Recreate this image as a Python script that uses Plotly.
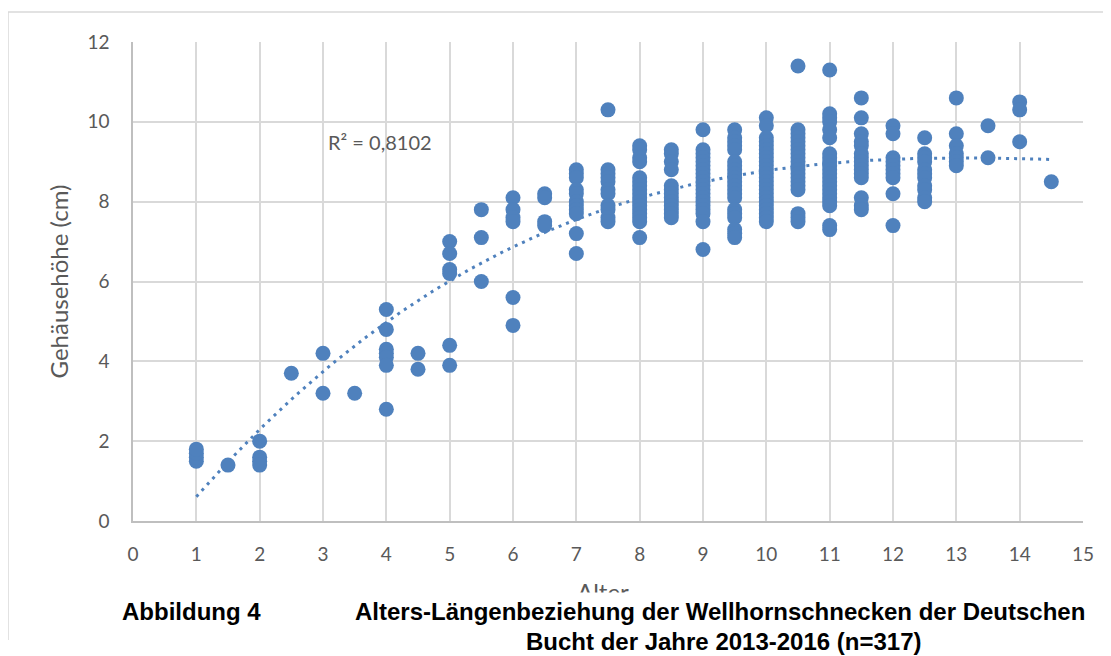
import numpy as np
import plotly.graph_objects as go

# Age classes (years) and shell heights (cm)
alter_klassen = [1, 1.5, 2, 2.5, 3, 3.5, 4, 4.5, 5, 5.5, 6, 6.5, 7, 7.5, 8, 8.5,
                 9, 9.5, 10, 10.5, 11, 11.5, 12, 12.5, 13, 13.5, 14, 14.5]
hoehen = [
    [1.5, 1.6, 1.7, 1.8],
    [1.4],
    [2.0, 1.6, 1.5, 1.4],
    [3.7],
    [4.2, 3.2],
    [3.2],
    [5.3, 4.8, 4.3, 4.2, 4.1, 3.9, 2.8],
    [4.2, 3.8],
    [7.0, 6.7, 6.3, 6.2, 4.4, 3.9],
    [7.8, 7.1, 6.0],
    [8.1, 7.8, 7.6, 7.5, 5.6, 4.9],
    [8.2, 8.1, 7.5, 7.4],
    [8.8, 8.7, 8.6, 8.3, 8.2, 8.0, 7.9, 7.8, 7.7, 7.2, 6.7],
    [10.3, 8.8, 8.7, 8.6, 8.5, 8.3, 8.2, 7.9, 7.8, 7.6, 7.5],
    [9.4, 9.3, 9.1, 9.0, 8.6, 8.5, 8.4, 8.3, 8.2, 8.1, 8.0, 7.9, 7.8, 7.7, 7.6, 7.5, 7.1],
    [9.3, 9.2, 9.0, 8.8, 8.4, 8.3, 8.2, 8.1, 8.0, 7.9, 7.8, 7.7, 7.6],
    [9.8, 9.3, 9.2, 9.1, 9.0, 8.9, 8.8, 8.7, 8.6, 8.5, 8.4, 8.3, 8.2, 8.1, 8.0, 7.9,
     7.8, 7.7, 7.5, 6.8],
    [9.8, 9.6, 9.5, 9.4, 9.3, 9.0, 8.9, 8.8, 8.7, 8.6, 8.5, 8.4, 8.3, 8.2, 8.1, 7.8,
     7.7, 7.6, 7.3, 7.2, 7.1],
    [10.1, 9.9, 9.6, 9.5, 9.4, 9.3, 9.2, 9.1, 9.0, 8.9, 8.8, 8.7, 8.6, 8.5, 8.4, 8.3,
     8.2, 8.1, 8.0, 7.9, 7.8, 7.7, 7.6, 7.5],
    [11.4, 9.8, 9.7, 9.6, 9.5, 9.4, 9.3, 9.2, 9.1, 9.0, 8.9, 8.8, 8.7, 8.6, 8.5, 8.4,
     8.3, 7.7, 7.6, 7.5],
    [11.3, 10.2, 10.1, 10.0, 9.8, 9.6, 9.2, 9.1, 9.0, 8.9, 8.8, 8.7, 8.6, 8.5, 8.4,
     8.3, 8.2, 8.1, 8.0, 7.9, 7.4, 7.3],
    [10.6, 10.1, 9.7, 9.5, 9.4, 9.2, 9.1, 9.0, 8.9, 8.8, 8.7, 8.6, 8.1, 7.9, 7.8],
    [9.9, 9.7, 9.1, 9.0, 8.9, 8.8, 8.7, 8.6, 8.2, 7.4],
    [9.6, 9.2, 9.1, 9.0, 8.8, 8.7, 8.6, 8.4, 8.3, 8.1, 8.0],
    [10.6, 9.7, 9.4, 9.2, 9.1, 9.0, 8.9],
    [9.9, 9.1],
    [10.5, 10.3, 9.5],
    [8.5],
]

x_ticks = list(range(0, 16))
y_ticks = [0, 2, 4, 6, 8, 10, 12]
r2_text = "R² = 0,8102"

xs = [a for a, hs in zip(alter_klassen, hoehen) for _ in hs]
ys = [h for hs in hoehen for h in hs]

# Polynomial trend (3rd order) fitted to the points
coef = np.polyfit(xs, ys, 3)
tx = np.linspace(min(xs), max(xs), 200)
ty = np.polyval(coef, tx)

blue = "#4F81BD"
grey_txt = "#595959"
grid = "#D9D9D9"
cap_font = "Liberation Sans, Arial, sans-serif"

# page offset of the figure (browser body margin)
OFF = 8
W, H = 1111 - OFF, 656 - OFF
# plot area in page pixels
PL, PR, PT, PB = 133, 1083, 42, 521
L, R, T, B = PL - OFF, W - (PR - OFF), PT - OFF, H - (PB - OFF)
pw, ph = W - L - R, H - T - B


def px(xp):
    return (xp - OFF - L) / pw


def py(yp):
    return (H - B - (yp - OFF)) / ph


fig = go.Figure()
fig.add_trace(go.Scatter(x=tx, y=ty, mode="lines",
                         line=dict(color=blue, width=3, dash="3px,5px"),
                         hoverinfo="skip", showlegend=False))
fig.add_trace(go.Scatter(x=xs, y=ys, mode="markers",
                         marker=dict(color=blue, size=15, line=dict(width=0)),
                         showlegend=False))

fig.update_layout(
    width=W, height=H,
    margin=dict(l=L, r=R, t=T, b=B),
    paper_bgcolor="white", plot_bgcolor="white",
    font=dict(family="Lato, Liberation Sans, sans-serif", color=grey_txt),
    xaxis=dict(range=[0, 15], tickvals=x_ticks, showgrid=True, gridcolor=grid,
               gridwidth=1.5, zeroline=False, showline=True, linecolor="#BFBFBF",
               linewidth=1.5, ticks="", tickfont=dict(size=19, color=grey_txt),
               ticklabelstandoff=15),
    yaxis=dict(range=[0, 12], tickvals=y_ticks, showgrid=True, gridcolor=grid,
               gridwidth=1.5, zeroline=False, showline=True, linecolor="#BFBFBF",
               linewidth=1.5, ticks="", tickfont=dict(size=19, color=grey_txt),
               ticklabelstandoff=18,
               title=dict(text="Gehäusehöhe (cm)", font=dict(size=24, color=grey_txt),
                          standoff=12)),
    shapes=[
        dict(type="line", xref="paper", yref="paper", x0=px(8), x1=px(1111),
             y0=py(12), y1=py(12), line=dict(color=grid, width=1.5)),
        dict(type="line", xref="paper", yref="paper", x0=px(8), x1=px(8),
             y0=py(12), y1=py(640), line=dict(color=grid, width=1.5)),
    ],
    annotations=[
        dict(x=3.05, y=9.5, xref="x", yref="y", text=r2_text, showarrow=False,
             xanchor="left", yanchor="middle", font=dict(size=20, color=grey_txt)),
        dict(x=px(603), y=py(591), xref="paper", yref="paper", text="Alter",
             showarrow=False, xanchor="center", yanchor="middle",
             font=dict(size=24, color=grey_txt)),
        dict(x=px(560), y=py(625), xref="paper", yref="paper", text=" ",
             showarrow=False, xanchor="center", yanchor="middle",
             width=1100, height=64, bgcolor="white", borderpad=0),
        dict(x=px(120), y=py(611), xref="paper", yref="paper", text="<b>Abbildung 4</b>",
             showarrow=False, xanchor="left", yanchor="middle",
             font=dict(family=cap_font, size=24, color="black")),
        dict(x=px(353), y=py(611), xref="paper", yref="paper",
             text="<b>Alters-Längenbeziehung der Wellhornschnecken der Deutschen</b>",
             showarrow=False, xanchor="left", yanchor="middle",
             font=dict(family=cap_font, size=24, color="black")),
        dict(x=px(724), y=py(641), xref="paper", yref="paper",
             text="<b>Bucht der Jahre 2013-2016 (n=317)</b>",
             showarrow=False, xanchor="center", yanchor="middle",
             font=dict(family=cap_font, size=24, color="black")),
    ],
)

fig.write_html("out.html")
